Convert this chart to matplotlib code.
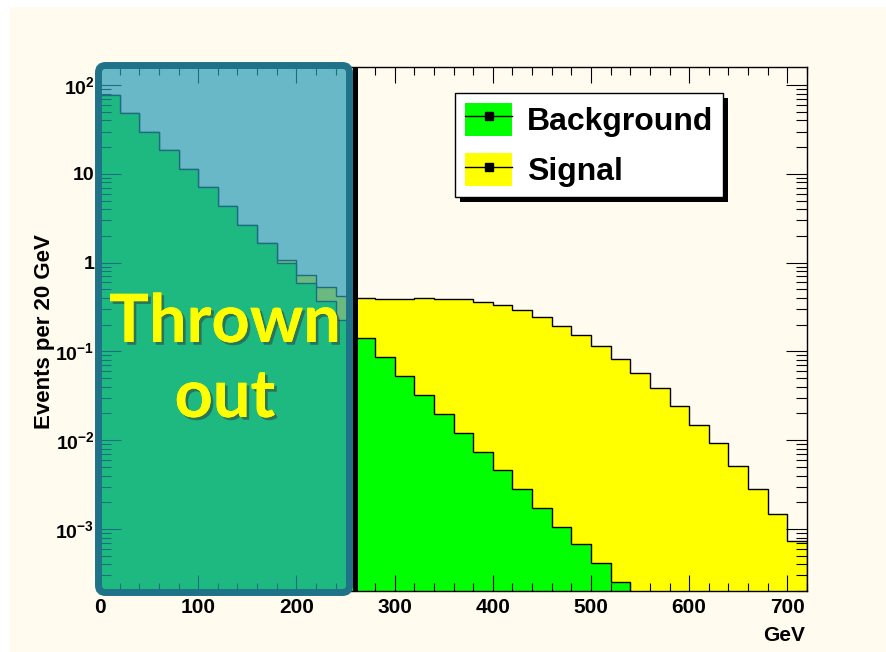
import numpy as np
import matplotlib
matplotlib.use("Agg")
import matplotlib.pyplot as plt
from matplotlib.patches import FancyBboxPatch, Patch, Rectangle
from matplotlib.lines import Line2D
from matplotlib.legend_handler import HandlerTuple
from matplotlib.ticker import MultipleLocator, LogLocator, FuncFormatter, NullFormatter
from matplotlib.transforms import IdentityTransform
import matplotlib.patheffects as pe

plt.rcParams['font.family'] = ['Liberation Sans', 'DejaVu Sans']
plt.rcParams['font.weight'] = 'bold'
plt.rcParams['mathtext.fontset'] = 'custom'
plt.rcParams['mathtext.rm'] = 'Liberation Sans:bold'
plt.rcParams['mathtext.bf'] = 'Liberation Sans:bold'
plt.rcParams['mathtext.it'] = 'Liberation Sans:bold'

# 20 GeV bins from 0 to 720 GeV
bin_edges = np.arange(0, 740, 20)

# background events per bin
background = [77, 48, 30, 18.7, 11.4, 7.05, 4.3, 2.65, 1.65, 1.0,
              0.59, 0.37, 0.226, 0.141, 0.086, 0.053, 0.0324, 0.0198,
              0.0122, 0.00745, 0.00459, 0.00283, 0.00173, 0.00106,
              0.00068, 0.000415, 0.000254, 0, 0, 0, 0, 0, 0, 0, 0, 0]

# signal events per bin (stacked on top of background)
signal = [0, 0, 0, 0, 0, 0, 0, 0, 0, 0.07,
          0.14, 0.16, 0.20, 0.263, 0.301, 0.334, 0.372, 0.370,
          0.375, 0.351, 0.331, 0.290, 0.244, 0.193, 0.151, 0.114,
          0.082, 0.0573, 0.0385, 0.0243, 0.0150, 0.00925, 0.00518,
          0.00281, 0.00147, 0.000734]

cut_value = 260

bg = np.array(background)
total = bg + np.array(signal)

W, H = 887, 652
fig = plt.figure(figsize=(W / 100, H / 100), dpi=100, facecolor="white")

# slide background
fig.patches.append(Rectangle((10, 0), W - 10, H - 7, transform=IdentityTransform(),
                             facecolor="#fffbef", edgecolor="none", zorder=-10))

ax = fig.add_axes([100 / W, 1 - 591 / H, 707 / W, 524 / H])
ax.set_facecolor("none")

base = 1e-9
ax.stairs(total, bin_edges, baseline=base, fill=True, color="#ffff00", zorder=1)
ax.stairs(total, bin_edges, baseline=base, color="black", lw=1, zorder=1.1)
ax.stairs(np.where(bg > 0, bg, base), bin_edges, baseline=base, fill=True,
          color="#00ff00", zorder=1.2)
ax.stairs(np.where(bg > 0, bg, base), bin_edges, baseline=base, color="black",
          lw=1, zorder=1.3)

ax.axvline(cut_value, color="black", lw=3.6, zorder=3)

ax.set_yscale("log")
ax.set_xlim(0, 720)
ax.set_ylim(2e-4, 160)

ax.xaxis.set_major_locator(MultipleLocator(100))
ax.xaxis.set_minor_locator(MultipleLocator(20))
ax.yaxis.set_major_locator(LogLocator(base=10, numticks=20))
ax.yaxis.set_minor_locator(LogLocator(base=10, subs=np.arange(2, 10), numticks=20))
ax.yaxis.set_minor_formatter(NullFormatter())


def fmt(v, pos):
    e = int(round(np.log10(v)))
    if e == 0:
        return "1"
    if e == 1:
        return "10"
    return r"$\mathbf{10^{%d}}$" % e


ax.yaxis.set_major_formatter(FuncFormatter(fmt))

ax.tick_params(axis="both", which="both", direction="in", top=True, right=True,
               color="black", width=0.8)
ax.tick_params(axis="x", which="major", length=11.5, labelsize=15, pad=5)
ax.tick_params(axis="x", which="minor", length=5.8)
ax.tick_params(axis="y", which="major", length=15, labelsize=14, pad=4)
ax.tick_params(axis="y", which="minor", length=8)
for lab in ax.get_xticklabels() + ax.get_yticklabels():
    lab.set_fontweight("bold")
for s in ax.spines.values():
    s.set_linewidth(1)
    s.set_color("black")

ax.set_ylabel("Events per 20 GeV", fontsize=16, fontweight="bold")
ax.yaxis.set_label_coords(-0.064, 0.496)
ax.set_xlabel("GeV", fontsize=15, fontweight="bold", ha="right")
ax.xaxis.set_label_coords(0.997, -0.066)

handles = [
    (Patch(facecolor="#00ff00", edgecolor="none"),
     Line2D([], [], color="black", lw=1, marker="s", ms=6)),
    (Patch(facecolor="#ffff00", edgecolor="none"),
     Line2D([], [], color="black", lw=1, marker="s", ms=6)),
]
leg = ax.legend(handles, ["Background", "Signal"],
                handler_map={tuple: HandlerTuple(ndivide=1, pad=0)},
                loc="upper left", bbox_to_anchor=(455 / W, 1 - 93 / H),
                bbox_transform=fig.transFigure, borderaxespad=0,
                prop={"weight": "bold", "size": 23},
                handlelength=1.5, handleheight=1.22, handletextpad=0.45,
                borderpad=0.3, labelspacing=0.5, fancybox=False,
                framealpha=1, edgecolor="black")
leg.get_frame().set_linewidth(1)
leg.get_frame().set_facecolor("white")

# "thrown out" region overlay
box = FancyBboxPatch((98.5, H - 592.5), 251, 527,
                     boxstyle="round,pad=0,rounding_size=7",
                     transform=IdentityTransform(),
                     facecolor="#2a9cb8", alpha=0.7, edgecolor="none", zorder=5)
fig.patches.append(box)
border = FancyBboxPatch((98.5, H - 592.5), 251, 527,
                        boxstyle="round,pad=0,rounding_size=7",
                        transform=IdentityTransform(),
                        facecolor="none", edgecolor="#1f7288", lw=5, zorder=6)
fig.patches.append(border)

shadow = [pe.withSimplePatchShadow(offset=(2, -2), shadow_rgbFace="#333333", alpha=0.5),
          pe.Normal()]
fig.text(225 / W, 1 - 342 / H, "Thrown", family=["Lato", "DejaVu Sans"],
         fontweight="bold", fontsize=48, color="#ffff00", ha="center",
         va="baseline", zorder=7, path_effects=shadow)
fig.text(225 / W, 1 - 417 / H, "out", family=["Lato", "DejaVu Sans"],
         fontweight="bold", fontsize=48, color="#ffff00", ha="center",
         va="baseline", zorder=7, path_effects=shadow)

# legend drop shadow
fig.canvas.draw()
bb = leg.get_window_extent()
ax.add_patch(Rectangle((bb.x0 + 5, bb.y0 - 5), bb.width, bb.height,
                       transform=IdentityTransform(), facecolor="black",
                       edgecolor="none", zorder=4.9, clip_on=False))

fig.savefig("out.png", dpi=100, facecolor=fig.get_facecolor())
